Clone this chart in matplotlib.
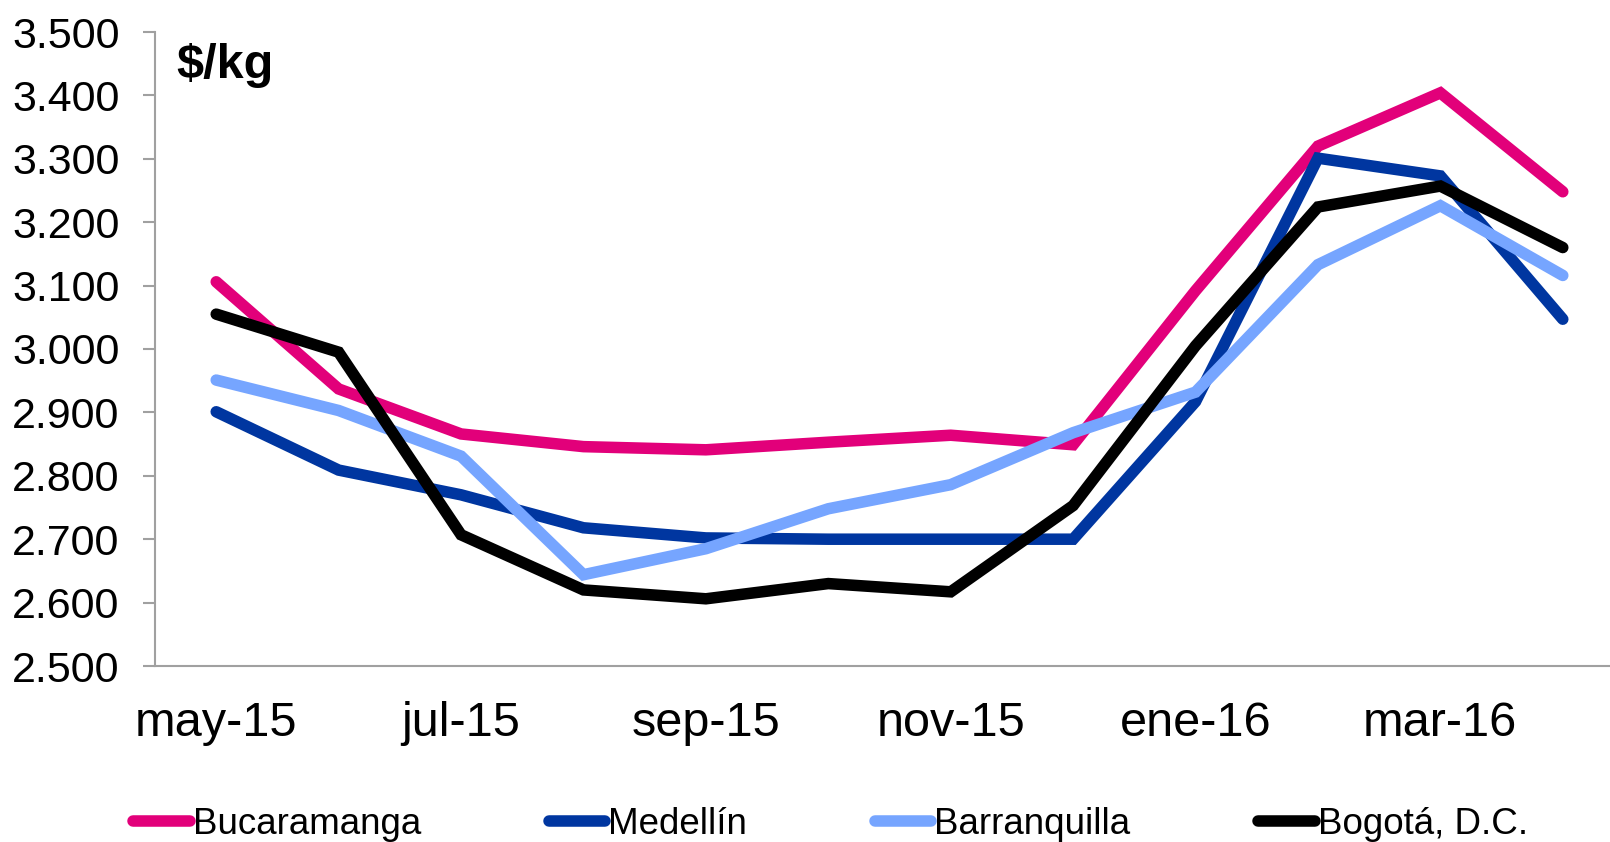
import matplotlib
matplotlib.use("Agg")
import matplotlib.pyplot as plt
from matplotlib.ticker import FuncFormatter, MultipleLocator

months = ["may-15", "jun-15", "jul-15", "ago-15", "sep-15", "oct-15",
          "nov-15", "dic-15", "ene-16", "feb-16", "mar-16", "abr-16"]

bucaramanga = [3106, 2937, 2866, 2846, 2841, 2853, 2864, 2849, 3092, 3320, 3404, 3248]
medellin = [2901, 2809, 2770, 2718, 2702, 2700, 2700, 2700, 2917, 3301, 3273, 3047]
barranquilla = [2951, 2903, 2831, 2644, 2685, 2748, 2786, 2868, 2932, 3133, 3226, 3116]
bogota = [3055, 2995, 2707, 2620, 2606, 2630, 2617, 2753, 3005, 3224, 3257, 3160]

series_names = ["Bucaramanga", "Medellín", "Barranquilla", "Bogotá, D.C."]
colors = ["#E2007A", "#0036A0", "#76A5FF", "#000000"]

plt.rcParams["font.family"] = ["Liberation Sans", "DejaVu Sans"]

fig = plt.figure(figsize=(16.1, 8.42), dpi=100)
ax = fig.add_axes([155 / 1610, 176 / 842, 1469 / 1610, 634 / 842])

x = list(range(len(months)))
for name, vals, col in zip(series_names,
                           [bucaramanga, medellin, barranquilla, bogota],
                           colors):
    ax.plot(x, vals, color=col, lw=8.3, label=name,
            solid_capstyle="round", solid_joinstyle="miter")

ax.set_xlim(-0.5, 11.5)
ax.set_ylim(2500, 3500)
ax.yaxis.set_major_locator(MultipleLocator(100))
ax.yaxis.set_major_formatter(FuncFormatter(lambda v, p: f"{v:,.0f}".replace(",", ".")))
ax.set_xticks(x[::2])
ax.set_xticklabels(months[::2])

for s in ["top", "right"]:
    ax.spines[s].set_visible(False)
for s in ["left", "bottom"]:
    ax.spines[s].set_color("#A0A0A0")
    ax.spines[s].set_linewidth(1.5)

ax.tick_params(axis="y", length=8.6, width=1.5, color="#A0A0A0",
               pad=17, labelsize=31)
ax.tick_params(axis="x", length=0, pad=25, labelsize=35)

fig.text(176 / 1610, 1 - 66 / 842, "$/kg", fontsize=35, fontweight="bold",
         va="center", ha="left")

fig.legend(loc="center left", bbox_to_anchor=(133 / 1610, 18 / 842),
           ncol=4, frameon=False, fontsize=26.5, handlelength=1.54,
           handletextpad=0.08, columnspacing=3.47, borderpad=0,
           borderaxespad=0)

fig.savefig("out.png", dpi=100)
